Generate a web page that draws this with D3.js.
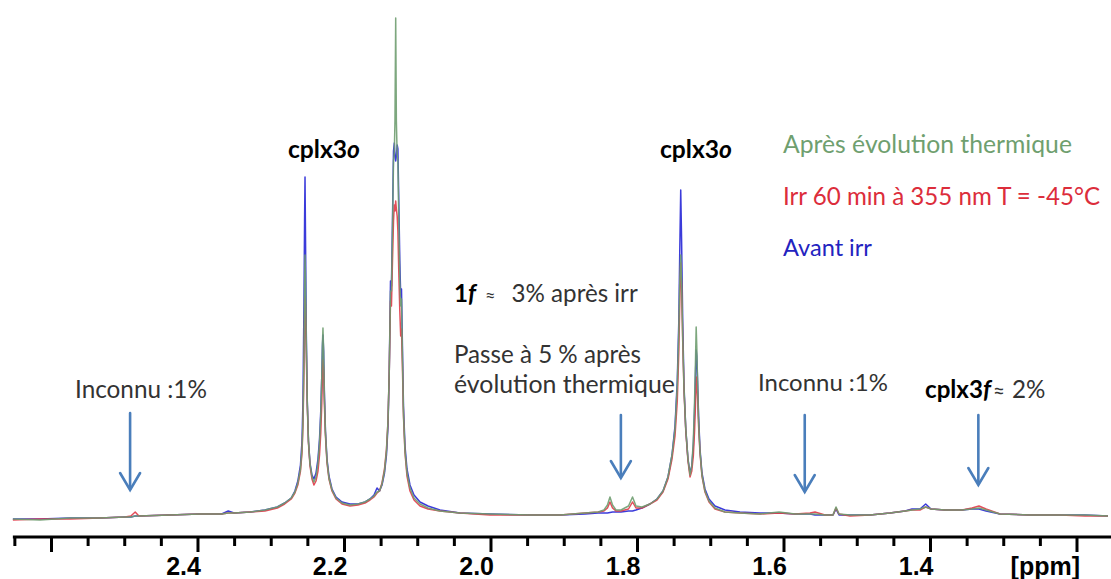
<!DOCTYPE html>
<html><head><meta charset="utf-8">
<script src="https://cdn.jsdelivr.net/npm/d3@7"></script>
<style>html,body{margin:0;padding:0;background:#fff;} svg{display:block;}</style>
</head><body>
<svg id="chart" width="1111" height="579"></svg>
<script>
// ---- data (chemical shift in ppm, intensity in arbitrary units) ----
const ppm = [2.652,2.615,2.574,2.533,2.499,2.491,2.485,2.480,2.438,2.397,2.367,2.358,2.350,2.328,2.308,2.291,2.281,2.272,2.267,2.263,
2.2594,2.2573,2.2560,2.2546,2.2538,2.2532,2.2526,2.2515,2.2501,2.2485,2.2464,2.2437,2.2410,2.2382,2.2355,2.2334,2.2317,2.2303,2.2294,2.2287,
2.2278,2.2268,2.2253,2.2232,2.2205,2.2164,2.2109,2.2027,2.1918,2.1809,2.1713,2.1645,2.1590,2.1549,2.1515,2.1481,2.1447,2.1420,2.1399,2.1382,
2.1365,2.1352,2.1338,2.1324,2.1313,2.1304,2.1294,2.1285,2.1274,2.1264,2.1252,2.1238,2.1226,2.1215,2.1201,2.1188,2.1167,2.1140,2.1099,2.1044,
2.0962,2.0853,2.0689,2.0416,2.0007,1.9461,1.9051,1.8710,1.8532,1.8451,1.8403,1.8369,1.8334,1.8287,1.8218,1.8116,1.8061,1.8014,1.7932,1.7823,
1.7727,1.7645,1.7577,1.7522,1.7481,1.7450,1.7429,1.7416,1.7403,1.7391,1.7376,1.7358,1.7334,1.7304,1.7276,1.7252,1.7231,1.7214,1.7200,1.7192,
1.7184,1.7173,1.7159,1.7140,1.7113,1.7072,1.7017,1.6935,1.6799,1.6594,1.6321,1.6061,1.5843,1.5638,1.5570,1.5433,1.5324,1.5283,1.5242,1.5092,
1.4819,1.4546,1.4341,1.4246,1.4137,1.4059,1.3986,1.3795,1.3563,1.3427,1.3331,1.3235,1.3044,1.2635,1.2225,1.1884,1.1570];

// "Avant irr" (blue)
const avantIrr = [2,2,3,3,4,4,5,5,6,7,7,10,8,9,11,14,18,23,30,40,
56,80,120,220,300,344,290,190,120,80,58,46,42,48,62,82,110,145,175,186,
170,130,90,62,45,32,24,19,17,17,19,22,26,33,30,36,48,66,95,150,
240,235,300,370,378,365,360,365,376,372,320,260,225,232,170,115,75,52,36,26,
19,15,11,8,7,6,6,7,8,8,8,8.5,9,9,9,10,10,11,13,17,
22,30,44,66,95,140,200,270,331,280,200,135,92,62,48,55,75,110,150,171,
165,140,105,72,48,32,22,15,11,9,8,8,7,7,6,6,6,12,6,6,
6,8,10,12,12,17,12,11,11,12,12,10,7,6,6,6,5];

// "Irr 60 min à 355 nm T = -45°C" (red)
const irr60 = [1,2,2,3,4,5,9,5,6,7,7,8,8,9,10,13,17,22,28,36,
50,68,95,150,200,224,215,170,115,78,55,42,36,40,50,66,88,118,145,161,
150,118,85,58,42,30,22,17,15,16,18,21,24,28,30,38,52,72,100,150,
220,215,260,300,316,310,320,312,305,290,250,210,185,192,150,105,68,45,30,21,
15,12,10,8,6,6,6,8,9,10,13,19,13,10,10,12,19,13,13,17,
21,29,42,62,85,120,170,220,258,235,180,130,90,60,44,50,65,90,120,135,
144,125,95,68,45,29,19,12,9,8,7,8,7,8,9,6,6,13,7,5,
6,8,10,11,11,14,12,11,11,13,15,12,7,6,6,5,5];

// "Après évolution thermique" (green)
const apresEvol = [2,1,3,3,4,4,5,5,6,7,7,8,8,9,11,14,18,23,29,38,
52,72,100,165,230,266,245,180,118,80,57,44,39,44,58,78,105,145,178,193,
170,125,88,60,43,31,23,18,16,17,19,22,25,29,30,37,50,70,100,150,
230,230,290,360,368,400,503,400,366,360,300,240,215,222,160,108,70,48,33,23,
17,13,10,8,7,6,6,8,9,11,16,24,16,11,11,15,24,15,14,17,
22,30,44,66,92,135,190,240,266,240,185,132,92,62,46,55,80,120,165,194,
175,140,100,70,46,30,20,13,9,8,7,9,7,7,7,6,6,14,7,6,
6,8,10,11,12,14,12,11,11,12,13,11,7,6,6,6,5];

const seriesNames = ["Après évolution thermique", "Irr 60 min à 355 nm T = -45°C", "Avant irr"];
const majorTicks = [2.6, 2.4, 2.2, 2.0, 1.8, 1.6, 1.4, 1.2];
const majorLabels = ["", "2.4", "2.2", "2.0", "1.8", "1.6", "1.4", "[ppm]"];
const minorTicks = [2.65,2.55,2.50,2.45,2.35,2.30,2.25,2.15,2.10,2.05,1.95,1.90,1.85,1.75,1.70,1.65,1.55,1.50,1.45,1.35,1.30,1.25];
// annotation arrows: position (ppm), top and tip (intensity units)
const arrowPpm = [2.492, 1.822, 1.571, 1.334];
const arrowTop = [108, 106, 106, 106];
const arrowTip = [31, 43, 29, 36];

// ---- drawing ----
const W = 1111, H = 579;
const svg = d3.select("#chart");
svg.append("rect").attr("width", W).attr("height", H).attr("fill", "#fff");

const x = d3.scaleLinear().domain([2.6696, 1.1529]).range([0, W]);
const y = d3.scaleLinear().domain([0, 504]).range([521, 17]);

const colors = {blue: "#2626d6", red: "#e03a48", green: "#6f9d70"};
const series = [
  {name: seriesNames[2], vals: avantIrr, color: colors.blue},
  {name: seriesNames[1], vals: irr60, color: colors.red},
  {name: seriesNames[0], vals: apresEvol, color: colors.green}
];
const line = d3.line().x(d => x(d[0])).y(d => y(d[1]));
svg.append("g").selectAll("path").data(series).join("path")
  .attr("d", s => line(ppm.map((p, i) => [p, s.vals[i]])))
  .attr("fill", "none").attr("stroke", s => s.color)
  .attr("stroke-width", 1.5).attr("stroke-linejoin", "round").attr("opacity", 0.9);

// axis
const axisY = 537;
const gAxis = svg.append("g").attr("transform", `translate(0,${axisY})`);
gAxis.append("line").attr("x1", x(2.65) - 1.5).attr("x2", W).attr("y1", 0).attr("y2", 0)
  .attr("stroke", "#000").attr("stroke-width", 3);
const minorAxis = d3.axisBottom(x).tickValues(minorTicks).tickSize(9).tickFormat("");
const majorAxis = d3.axisBottom(x).tickValues(majorTicks).tickSize(15)
  .tickFormat((d, i) => majorLabels[i]);
const gMin = gAxis.append("g").call(minorAxis);
const gMaj = gAxis.append("g").call(majorAxis);
[gMin, gMaj].forEach(g => {
  g.select(".domain").remove();
  g.selectAll(".tick line").attr("stroke", "#000").attr("stroke-width", 3);
});
gMaj.selectAll(".tick text")
  .attr("fill", "#000").attr("font-family", "'Liberation Sans', Arial, sans-serif")
  .attr("font-weight", "bold").attr("font-size", 25)
  .attr("text-anchor", "end").attr("x", 3).attr("y", 38).attr("dy", 0);

// arrows
const arrowColor = "#4a7ebb";
const gArr = svg.append("g").attr("stroke", arrowColor).attr("stroke-width", 2.6)
  .attr("fill", "none").attr("stroke-linecap", "round");
arrowPpm.forEach((p, i) => {
  const ax = x(p), y0 = y(arrowTop[i]), y1 = y(arrowTip[i]);
  gArr.append("line").attr("x1", ax).attr("x2", ax).attr("y1", y0).attr("y2", y1 - 1);
  gArr.append("path").attr("d", `M${ax - 10},${y1 - 17} L${ax},${y1} L${ax + 10},${y1 - 17}`)
    .attr("stroke-linejoin", "miter");
});

// text helpers
const FONT = "Lato, 'Open Sans', 'DejaVu Sans', sans-serif";
function fit(t, w) {
  const len = t.node().getComputedTextLength();
  const fs = parseFloat(t.attr("font-size"));
  if (len > 0) t.attr("font-size", (fs * w / len).toFixed(2));
  return t;
}
function txt(xp, yp, size, color, weight) {
  return svg.append("text").attr("x", xp).attr("y", yp).attr("font-family", FONT)
    .attr("font-size", size).attr("fill", color).attr("font-weight", weight || "normal");
}

// legend-like labels
fit(txt(783, 153, 23, "#6f9f6f").text(seriesNames[0]), 289);
fit(txt(783, 205, 23, "#dc2d3b").text(seriesNames[1]), 317);
fit(txt(783, 256, 23, "#2323bf").text(seriesNames[2]), 89);

// cplx3o labels
[[288, 158], [660, 158]].forEach(([tx, ty]) => {
  const t = txt(tx, ty, 23, "#000", "bold");
  t.append("tspan").text("cplx3");
  t.append("tspan").attr("font-style", "italic").text("o");
  fit(t, 72);
});

// annotations
const passe = fit(txt(454, 363, 23, "#333").text("Passe à 5 % après"), 187);
const baseSize = parseFloat(passe.attr("font-size"));
fit(txt(454, 393, 23, "#333").text("évolution thermique"), 221);
fit(txt(75, 398, 23, "#333").text("Inconnu :1%"), 132);
fit(txt(758, 391, 23, "#333").text("Inconnu :1%"), 130);
{
  const t = txt(454, 302, baseSize, "#333");
  t.append("tspan").attr("font-weight", "bold").attr("fill", "#000").text("1");
  t.append("tspan").attr("font-weight", "bold").attr("font-style", "italic").attr("fill", "#000").text("f");
  t.append("tspan").attr("font-size", "0.75em").attr("dx", 9).text("≈");
  t.append("tspan").attr("dx", 16).text("3% après irr");
}
{
  const t = txt(925, 398, baseSize, "#333");
  t.append("tspan").attr("font-weight", "bold").attr("fill", "#000").text("cplx3");
  t.append("tspan").attr("font-weight", "bold").attr("font-style", "italic").attr("fill", "#000").text("f");
  t.append("tspan").attr("font-size", "0.85em").attr("dx", 2).text("≈");
  t.append("tspan").attr("dx", 7).text("2%");
}
</script>
</body></html>
